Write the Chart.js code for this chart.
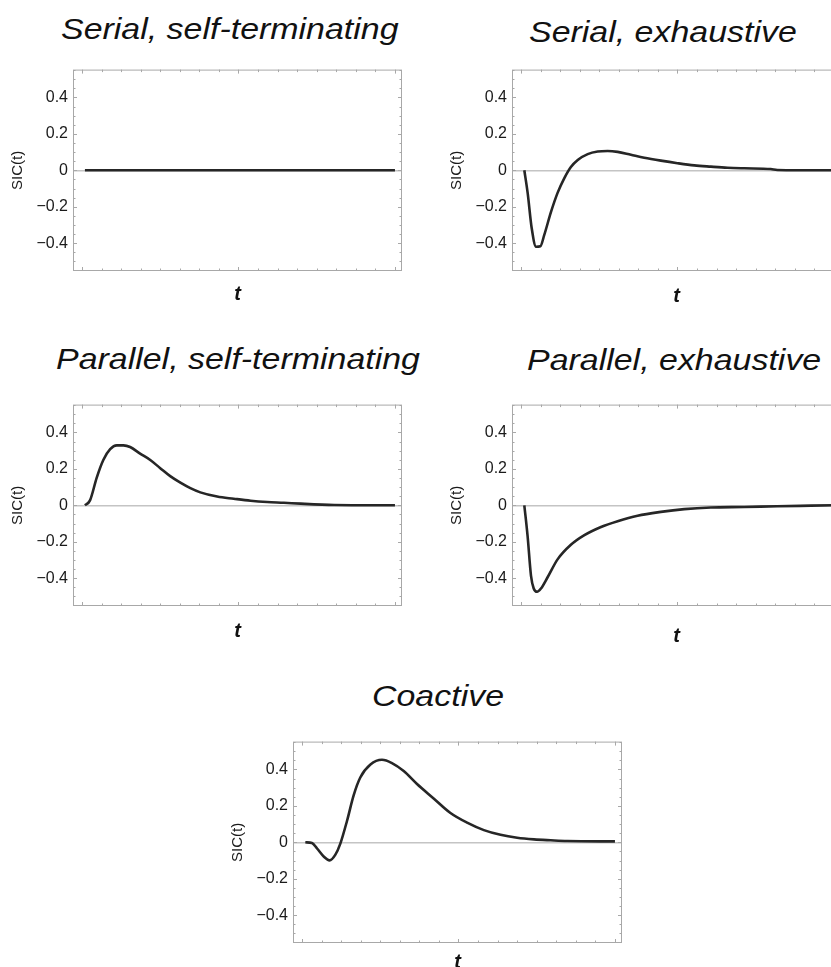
<!DOCTYPE html>
<html>
<head>
<meta charset="utf-8">
<script src="https://cdn.jsdelivr.net/npm/chart.js@4.4.1/dist/chart.umd.min.js"></script>
<style>
  html, body { margin: 0; padding: 0; overflow: hidden; background: #fff; }
  body { width: 831px; height: 967px; position: relative; }
  .panel { position: absolute; width: 420px; height: 260px; }
  .title {
    position: absolute;
    font: italic 29px "Liberation Sans", Arial, sans-serif;
    line-height: 1;
    color: #111;
    white-space: nowrap;
    transform-origin: left top;
    transform: scaleX(1.17);
  }
</style>
</head>
<body>
<div class="title" style="left:61px; top:15px;">Serial, self-terminating</div>
<div class="title" style="left:529px; top:18px;">Serial, exhaustive</div>
<div class="title" style="left:56px; top:345px;">Parallel, self-terminating</div>
<div class="title" style="left:527px; top:346px;">Parallel, exhaustive</div>
<div class="title" style="left:372px; top:682px;">Coactive</div>

<div class="panel" style="left:0px; top:55px;"><canvas id="serialSelf"></canvas></div>
<div class="panel" style="left:439px; top:55px;"><canvas id="serialExh"></canvas></div>
<div class="panel" style="left:0px; top:390px;"><canvas id="parallelSelf"></canvas></div>
<div class="panel" style="left:439px; top:390px;"><canvas id="parallelExh"></canvas></div>
<div class="panel" style="left:220px; top:727px;"><canvas id="coactive"></canvas></div>

<script>
// tick positions (x ticks are unlabeled, y ticks labeled)
const xTickValues = [0, 1, 2, 3, 4, 5, 6, 7, 8, 9, 10, 11, 12, 13, 14, 15, 16];
const xMajorTicks = [0, 8, 16];
const yTickValues = [-0.4, -0.2, 0, 0.2, 0.4];
const yMinorTicks = [-0.55, -0.5, -0.45, -0.35, -0.3, -0.25, -0.15, -0.1, -0.05, 0.05, 0.1, 0.15, 0.25, 0.3, 0.35, 0.45, 0.5, 0.55];

// SIC(t) curves
const serialSelfT = [0.15, 2, 4, 6, 8, 10, 12, 14, 16];
const serialSelfSic = [0, 0, 0, 0, 0, 0, 0, 0, 0];

const serialExhT = [0.17, 0.34, 0.55, 0.77, 0.99, 1.19, 1.53, 1.87, 2.21, 2.55, 2.9, 3.41, 3.92, 4.43, 4.94, 5.62, 6.3, 7.15, 8.0, 8.86, 9.71, 10.56, 11.41, 12.77, 13.1, 16];
const serialExhSic = [0, -0.124, -0.32, -0.42, -0.417, -0.355, -0.23, -0.124, -0.044, 0.018, 0.057, 0.089, 0.103, 0.106, 0.101, 0.085, 0.069, 0.053, 0.039, 0.027, 0.02, 0.014, 0.011, 0.007, 0.002, 0];

const parallelSelfT = [0.15, 0.41, 0.75, 1.09, 1.44, 1.78, 2.12, 2.46, 2.97, 3.49, 4.0, 4.51, 5.03, 5.54, 6.05, 6.91, 7.76, 8.62, 9.47, 10.32, 11.18, 12.89, 16];
const parallelSelfSic = [0, 0.027, 0.151, 0.249, 0.308, 0.329, 0.329, 0.32, 0.284, 0.249, 0.204, 0.16, 0.124, 0.094, 0.071, 0.048, 0.036, 0.025, 0.018, 0.014, 0.009, 0.002, 0];

const parallelExhT = [0.17, 0.34, 0.51, 0.65, 0.82, 1.02, 1.36, 1.87, 2.55, 3.24, 4.09, 4.94, 5.96, 7.15, 8.35, 9.71, 11.41, 13.1, 14.82, 16];
const parallelExhSic = [0, -0.172, -0.386, -0.457, -0.475, -0.457, -0.395, -0.297, -0.217, -0.164, -0.119, -0.087, -0.057, -0.036, -0.021, -0.012, -0.009, -0.005, -0.002, 0];

const coactiveT = [0.17, 0.51, 0.77, 1.11, 1.41, 1.7, 1.96, 2.3, 2.64, 2.98, 3.5, 4.09, 4.6, 5.2, 5.88, 6.73, 7.59, 8.44, 9.3, 10.15, 11.0, 11.86, 12.71, 13.56, 16];
const coactiveSic = [0, -0.004, -0.034, -0.078, -0.099, -0.069, -0.007, 0.117, 0.258, 0.356, 0.427, 0.453, 0.435, 0.391, 0.32, 0.241, 0.161, 0.108, 0.067, 0.041, 0.025, 0.016, 0.011, 0.007, 0.005];

const FONT = '"Liberation Sans", Arial, sans-serif';
const FRAME_COLOR = '#a8a8a8';

const fmtTick = (v) => (v === 0 ? '0' : v.toFixed(1).replace('-', '\u2212'));

// Mathematica-style frame with small inside ticks on all four sides
const framePlugin = {
  id: 'frame',
  afterDraw(chart) {
    const { ctx, chartArea: a, scales } = chart;
    ctx.save();
    ctx.strokeStyle = FRAME_COLOR;
    ctx.lineWidth = 1;
    ctx.strokeRect(a.left + 0.5, a.top + 0.5, a.right - a.left - 1, a.bottom - a.top - 1);
    ctx.beginPath();
    xTickValues.forEach((v) => {
      const px = Math.round(scales.x.getPixelForValue(v)) + 0.5;
      const len = xMajorTicks.includes(v) ? 4 : 2.5;
      ctx.moveTo(px, a.bottom); ctx.lineTo(px, a.bottom - len);
      ctx.moveTo(px, a.top); ctx.lineTo(px, a.top + len);
    });
    yTickValues.concat(yMinorTicks).forEach((v) => {
      const py = Math.round(scales.y.getPixelForValue(v)) + 0.5;
      const len = yTickValues.includes(v) ? 4 : 2.5;
      ctx.moveTo(a.left, py); ctx.lineTo(a.left + len, py);
      ctx.moveTo(a.right, py); ctx.lineTo(a.right - len, py);
    });
    ctx.stroke();
    ctx.restore();
  },
};

const makePanel = (id, tValues, sicValues, tGap) => {
  const ctx = document.getElementById(id);
  return new Chart(ctx, {
    type: 'line',
    data: {
      datasets: [
        {
          data: tValues.map((t, i) => ({ x: t, y: sicValues[i] })),
          borderColor: '#262626',
          borderWidth: 2.6,
          pointRadius: 0,
          cubicInterpolationMode: 'monotone',
          fill: false,
        },
      ],
    },
    options: {
      responsive: true,
      maintainAspectRatio: false,
      animation: false,
      events: [],
      layout: { padding: { left: 0, top: 8, right: 18, bottom: 0 } },
      plugins: { legend: { display: false }, tooltip: { enabled: false } },
      scales: {
        x: {
          type: 'linear',
          min: -0.46,
          max: 16.36,
          border: { display: false },
          grid: { display: false },
          ticks: { display: false },
          title: {
            display: true,
            text: 't',
            color: '#111',
            font: { family: FONT, size: 20, style: 'italic', weight: 'bold' },
            padding: { top: 0, bottom: 32 - tGap },
          },
          afterFit: (scale) => { scale.height = 44; },
        },
        y: {
          min: -0.553,
          max: 0.553,
          border: { display: false },
          grid: {
            drawTicks: false,
            lineWidth: 1.5,
            color: (c) => (c.tick && c.tick.value === 0 ? '#c4c4c4' : 'rgba(0,0,0,0)'),
          },
          afterBuildTicks: (scale) => { scale.ticks = yTickValues.map((v) => ({ value: v })); },
          ticks: {
            padding: 5,
            color: '#1a1a1a',
            font: { family: FONT, size: 16 },
            callback: (v) => fmtTick(v),
          },
          title: {
            display: true,
            text: 'SIC(t)',
            color: '#1a1a1a',
            font: { family: FONT, size: 15 },
            padding: { top: 9, bottom: 0 },
          },
          afterFit: (scale) => { scale.width = 73; },
        },
      },
    },
    plugins: [framePlugin],
  });
};

makePanel('serialSelf', serialSelfT, serialSelfSic, 23.5);
makePanel('serialExh', serialExhT, serialExhSic, 25.7);
makePanel('parallelSelf', parallelSelfT, parallelSelfSic, 25.7);
makePanel('parallelExh', parallelExhT, parallelExhSic, 30);
makePanel('coactive', coactiveT, coactiveSic, 19);
</script>
</body>
</html>
